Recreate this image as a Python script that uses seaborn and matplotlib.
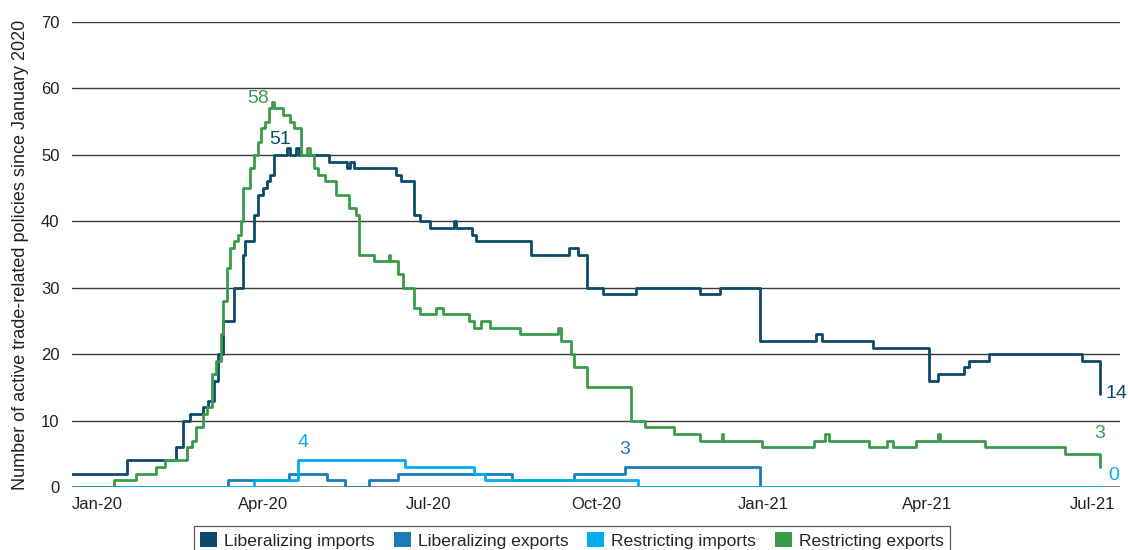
import numpy as np
import pandas as pd
import matplotlib
matplotlib.use('Agg')
import matplotlib.pyplot as plt
import matplotlib.patches as mpatches
import seaborn as sns

# Days counted from 1 Jan 2020; each value holds from that day until the next change
lib_imp_day = [-14, 16, 43, 47, 51, 58, 61, 64, 66, 69, 75, 80, 81, 86, 88, 91, 93, 95, 97,
               104, 106, 109, 111, 127, 137, 139, 141, 164, 167, 174, 177, 183, 196, 197, 206,
               208, 238, 259, 264, 269, 278, 296, 331, 342, 364, 395, 398, 426, 457, 462, 476,
               479, 490, 541, 551]
lib_imp_val = [2, 4, 6, 10, 11, 12, 13, 16, 20, 25, 30, 35, 37, 41, 44, 45, 46, 47, 50,
               51, 50, 51, 50, 49, 48, 49, 48, 47, 46, 41, 40, 39, 40, 39, 38,
               37, 35, 36, 35, 30, 29, 30, 29, 30, 22, 23, 22, 21, 16, 17, 18,
               19, 20, 19, 14]

lib_exp_day = [-14, 72, 105, 126, 136, 149, 165, 228, 262, 290, 364, 551]
lib_exp_val = [0, 1, 2, 1, 0, 1, 2, 1, 2, 3, 0, 0]

res_imp_day = [-14, 86, 110, 169, 207, 213, 297, 551]
res_imp_val = [0, 1, 4, 3, 2, 1, 0, 0]

res_exp_day = [-14, 9, 21, 32, 37, 49, 52, 54, 58, 60, 63, 65, 68, 69, 71, 73, 75, 77, 79,
               80, 84, 86, 88, 90, 92, 94, 96, 97, 102, 106, 108, 112, 115, 117, 119, 121,
               125, 131, 138, 142, 144, 152, 160, 161, 165, 168, 174, 177, 186, 190, 204,
               207, 211, 216, 232, 253, 255, 260, 262, 269, 293, 301, 317, 331, 343, 344,
               365, 394, 400, 402, 424, 434, 437, 450, 462, 463, 488, 532, 551]
res_exp_val = [0, 1, 2, 3, 4, 6, 7, 9, 11, 12, 17, 19, 23, 28, 33, 36, 37, 38, 40,
               45, 48, 50, 52, 54, 55, 57, 58, 57, 56, 55, 54, 50, 51, 50, 48, 47,
               46, 44, 42, 41, 35, 34, 35, 34, 32, 30, 27, 26, 27, 26, 25,
               24, 25, 24, 23, 24, 22, 20, 18, 15, 10, 9, 8, 7, 8, 7,
               6, 7, 8, 7, 6, 7, 6, 7, 8, 7, 6, 5, 3]

SERIES = ['Liberalizing imports', 'Liberalizing exports', 'Restricting imports', 'Restricting exports']
COLORS = ['#0b4a6b', '#1a7db3', '#00aeef', '#3a9c4b']
tick_dates = ['2020-01-01', '2020-04-01', '2020-07-01', '2020-10-01', '2021-01-01', '2021-04-01', '2021-07-01']
tick_labels = ['Jan-20', 'Apr-20', 'Jul-20', 'Oct-20', 'Jan-21', 'Apr-21', 'Jul-21']

START = pd.Timestamp('2020-01-01')
frames = []
for name, d, v in zip(SERIES, [lib_imp_day, lib_exp_day, res_imp_day, res_exp_day],
                      [lib_imp_val, lib_exp_val, res_imp_val, res_exp_val]):
    frames.append(pd.DataFrame({'date': START + pd.to_timedelta(d, unit='D'), 'value': v, 'series': name}))
df = pd.concat(frames, ignore_index=True)

sns.set_theme(style='white')
plt.rcParams['font.family'] = ['Liberation Sans', 'DejaVu Sans']

fig = plt.figure(figsize=(11.28, 5.5), dpi=100)
ax = fig.add_axes([72/1128, 1-487/550, (1120-72)/1128, (487-22)/550])

for y in range(10, 71, 10):
    ax.axhline(y, color='#3a3a3a', lw=1.0, zorder=0)
ax.axhline(0, color='#7a7a7a', lw=2.0, zorder=0)

sns.lineplot(data=df, x='date', y='value', hue='series', hue_order=SERIES,
             palette=dict(zip(SERIES, COLORS)), drawstyle='steps-post', lw=2.0,
             estimator=None, legend=False, ax=ax, zorder=3)

ax.set_ylim(0, 70)
ax.set_yticks(range(0, 71, 10))
ax.set_xlim(START + pd.Timedelta(days=-14), START + pd.Timedelta(days=562))
ax.set_xticks(pd.to_datetime(tick_dates))
ax.set_xticklabels(tick_labels)
ax.tick_params(axis='both', length=0, labelsize=12, colors='#222222')
ax.tick_params(axis='y', pad=9)
ax.tick_params(axis='x', pad=7)
ax.set_xlabel('')
ax.set_ylabel('Number of active trade-related policies since January 2020', fontsize=13,
              color='#222222')
ax.yaxis.set_label_coords(-0.041, 0.5)
for s in ax.spines.values():
    s.set_visible(False)

def note(day, val, txt, color, dx, dy, ha='center'):
    ax.annotate(txt, (START + pd.Timedelta(days=int(day)), val), xytext=(dx, dy),
                textcoords='offset pixels', ha=ha, va='center', fontsize=14, color=color)

i = int(np.argmax(res_exp_val)); note(res_exp_day[i], res_exp_val[i], '58', COLORS[3], -14, 3)
i = int(np.argmax(lib_imp_val)); note(lib_imp_day[i], lib_imp_val[i], '51', COLORS[0], -7, 9)
i = int(np.argmax(res_imp_val)); note(res_imp_day[i], res_imp_val[i], '4', COLORS[2], 5, 18)
i = int(np.argmax(lib_exp_val)); note(lib_exp_day[i], lib_exp_val[i], '3', COLORS[1], 0, 18)
note(lib_imp_day[-1], lib_imp_val[-1], str(lib_imp_val[-1]), COLORS[0], 6, 0, ha='left')
note(res_exp_day[-1], res_exp_val[-2], str(res_exp_val[-1]), COLORS[3], 0, 20)
note(res_imp_day[-1], res_imp_val[-1], str(res_imp_val[-1]), COLORS[2], 8, 12, ha='left')

handles = [mpatches.Patch(facecolor=c, edgecolor='none', label=s) for s, c in zip(SERIES, COLORS)]
leg = fig.legend(handles=handles, loc='upper center', bbox_to_anchor=(572/1128, 1-526/550), ncol=4,
                 frameon=True, fancybox=False, fontsize=12.6, handlelength=0.95, handleheight=0.95,
                 handletextpad=0.4, columnspacing=1.1, borderpad=0.35, borderaxespad=0)
leg.get_frame().set_edgecolor('#333333')
leg.get_frame().set_linewidth(0.9)

fig.savefig('out.png', dpi=100)
